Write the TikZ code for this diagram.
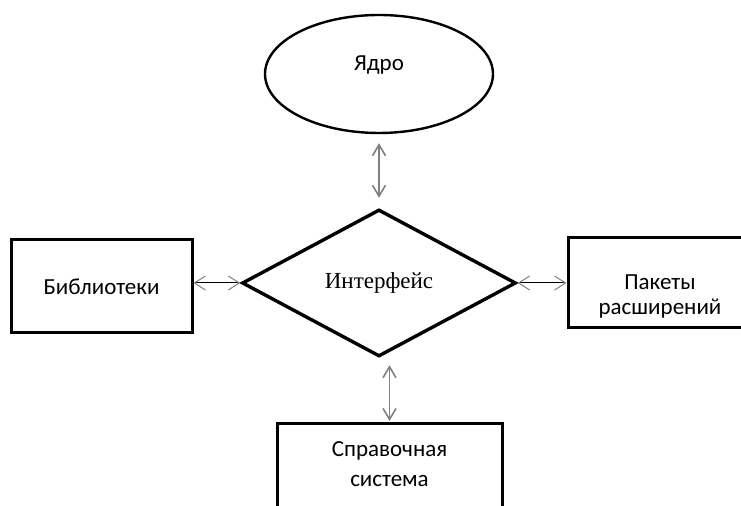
\documentclass[tikz,border=0pt]{standalone}
\usepackage{fontspec}
\setmainfont{Carlito}
\newfontfamily\ifacefont{Liberation Serif}
\usetikzlibrary{shapes}
\usetikzlibrary{positioning}
\usetikzlibrary{arrows.meta}
\tikzset{
    block/.style = {rectangle, line width=1.5pt, draw=black, align=center, font=\fontsize{11.5}{15}\selectfont},
    blocktext/.style = {align=center, font=\fontsize{11.5}{15}\selectfont},
    core/.style = {ellipse, line width=1.2pt, draw=black, minimum width=114pt, minimum height=59pt, font=\fontsize{11.5}{15}\selectfont},
    iface/.style = {diamond, line width=1.7pt, draw=black, inner sep=0pt, minimum width=137pt, minimum height=73.5pt, font=\ifacefont\fontsize{11.5}{15}\selectfont},
    edgev/.style = {{Straight Barb[length=5.5pt,width=6.5pt]}-{Straight Barb[length=5.5pt,width=6.5pt]},line width=0.8pt,gray},
    edgeh/.style = {{Straight Barb[length=5.5pt,width=7pt,gray]}-{Straight Barb[length=5.5pt,width=7pt,gray]},line width=0.5pt,black}
}

\begin{document}
\begin{tikzpicture}[x=0.5pt,y=-0.5pt]
  \useasboundingbox (0,0) rectangle (741,506);
  \clip (0,0) rectangle (741,506);
  \node[core, label={[blocktext, yshift=4.5pt]center:Ядро}] (core) at (379,74) {};
  \node[iface] (iface) at (379,283) {Интерфейс};
  \node[block, minimum width=90.5pt, minimum height=46.5pt] (lib) at (101.5,286.5) {Библиотеки};
  \node[block, minimum width=92pt, minimum height=45pt,
        label={[blocktext, font=\fontsize{11.5}{12.5}\selectfont, yshift=-6.5pt]center:Пакеты\\расширений}] (ext) at (660,283) {};
  \node[block, minimum width=112.5pt, minimum height=50pt, anchor=north,
        label={[blocktext, anchor=north, yshift=-6.5pt]north:Справочная\\система}] (help) at (389.5,422) {};

  \draw[edgev, shorten <=4.5pt, shorten >=5pt] (core.south) -- (iface.north);
  \draw[edgev, shorten <=3.5pt, shorten >=0.5pt] (iface.south -| help.north) -- (help.north);
  \draw[edgeh] (lib.east |- iface.west) -- (iface.west);
  \draw[edgeh] (iface.east) -- (ext.west |- iface.east);
\end{tikzpicture}
\end{document}
